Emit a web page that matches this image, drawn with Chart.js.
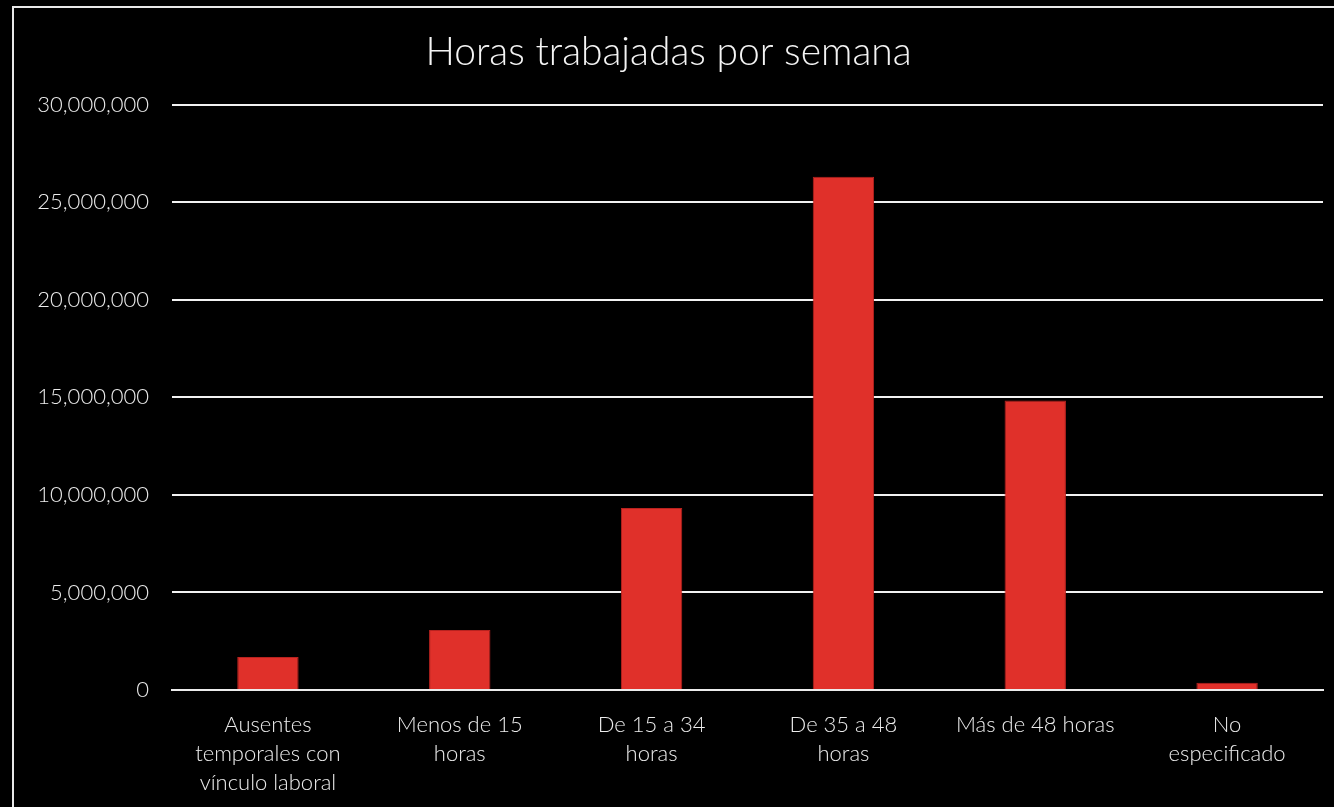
<!DOCTYPE html>
<html>
<head>
<meta charset="utf-8">
<script src="https://cdn.jsdelivr.net/npm/chart.js@4"></script>
<style>
  html, body { margin: 0; padding: 0; background: #000; overflow: hidden; }
  #box {
    position: absolute; left: 12px; top: 6px;
    width: 1320px; height: 799px;
    border-left: 2px solid #e8e8e8; border-top: 2px solid #e8e8e8;
  }
</style>
</head>
<body>
<div id="box"><canvas id="horas"></canvas></div>
<script>
const categorias = [
    ["Ausentes", "temporales con", "vínculo laboral"],
    ["Menos de 15", "horas"],
    ["De 15 a 34", "horas"],
    ["De 35 a 48", "horas"],
    ["Más de 48 horas"],
    ["No", "especificado"]
];
const personas = [1690000, 3080000, 9330000, 26310000, 14840000, 370000];
const ticksY = [0, 5000000, 10000000, 15000000, 20000000, 25000000, 30000000];

(() => {
    const ctx = document.getElementById('horas').getContext('2d');
    const fuente = "Lato, 'Open Sans', sans-serif";

    new Chart(ctx, {
        type: 'bar',
        data: {
            labels: categorias,
            datasets: [{
                label: "Horas trabajadas",
                data: personas,
                backgroundColor: "#e0302a",
                borderColor: "#b8221f",
                borderWidth: 1,
                categoryPercentage: 1,
                barPercentage: 0.32
            }]
        },
        options: {
            responsive: true,
            maintainAspectRatio: false,
            animation: false,
            layout: { padding: { right: 11, left: 0, top: 0, bottom: 0 } },
            plugins: {
                legend: { display: false },
                tooltip: { enabled: false },
                title: {
                    display: true,
                    text: 'Horas trabajadas por semana',
                    color: '#f4f4f4',
                    font: { family: fuente, size: 39, weight: 300, lineHeight: 1.2 },
                    padding: { top: 21, bottom: 29 }
                }
            },
            scales: {
                x: {
                    grid: { display: false },
                    border: { display: true, color: '#ececec', width: 2 },
                    ticks: {
                        color: '#ececec',
                        font: { family: fuente, size: 22, weight: 300, lineHeight: 1.32 },
                        padding: 12,
                        maxRotation: 0,
                        autoSkip: false
                    },
                    afterFit: scale => { scale.height = 117; }
                },
                y: {
                    min: 0,
                    max: 30000000,
                    afterBuildTicks: scale => { scale.ticks = ticksY.map(v => ({ value: v })); },
                    grid: { color: '#f2f2f2', lineWidth: 2, drawTicks: false },
                    border: { display: false },
                    ticks: {
                        color: '#ececec',
                        font: { family: fuente, size: 22, weight: 300 },
                        padding: 23,
                        callback: v => v.toLocaleString('en-US')
                    },
                    afterFit: scale => { scale.width = 158; }
                }
            }
        }
    });
})();
</script>
</body>
</html>
